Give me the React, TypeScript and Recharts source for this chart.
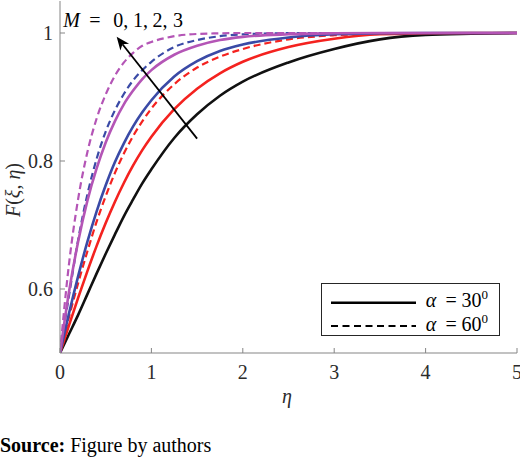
import React from 'react';
import { LineChart, Line, XAxis, YAxis, ReferenceLine, Legend } from 'recharts';

// eta grid
const etaValues = [0, 0.1, 0.2, 0.3, 0.4, 0.5, 0.6, 0.7, 0.8, 0.9, 1.0, 1.25, 1.5, 1.75, 2.0, 2.5, 3.0, 3.5, 4.0, 4.5, 5.0];

// F(xi, eta)
const blackSolid = [0.5, 0.530, 0.560, 0.592, 0.624, 0.655, 0.685, 0.714, 0.740, 0.765, 0.787, 0.836, 0.873, 0.902, 0.924, 0.954, 0.975, 0.990, 0.997, 0.999, 1.0];
const redSolid = [0.5, 0.544, 0.587, 0.628, 0.667, 0.703, 0.736, 0.766, 0.793, 0.817, 0.838, 0.881, 0.913, 0.937, 0.955, 0.978, 0.991, 0.998, 0.9995, 1.0, 1.0];
const redDashed = [0.5, 0.557, 0.610, 0.659, 0.705, 0.745, 0.781, 0.812, 0.839, 0.862, 0.882, 0.920, 0.946, 0.963, 0.975, 0.990, 0.9965, 0.999, 1.0, 1.0, 1.0];
const blueSolid = [0.5, 0.563, 0.621, 0.674, 0.721, 0.762, 0.798, 0.828, 0.854, 0.876, 0.895, 0.932, 0.956, 0.972, 0.982, 0.993, 0.998, 0.9995, 1.0, 1.0, 1.0];
const blueDashed = [0.5, 0.591, 0.678, 0.748, 0.803, 0.846, 0.879, 0.905, 0.926, 0.942, 0.955, 0.978, 0.989, 0.995, 0.998, 0.9997, 1.0, 1.0, 1.0, 1.0, 1.0];
const magentaSolid = [0.5, 0.597, 0.675, 0.738, 0.788, 0.829, 0.862, 0.889, 0.910, 0.928, 0.942, 0.966, 0.980, 0.989, 0.994, 0.998, 0.9995, 1.0, 1.0, 1.0, 1.0];
const magentaDashed = [0.5, 0.641, 0.742, 0.814, 0.866, 0.904, 0.933, 0.954, 0.969, 0.980, 0.986, 0.995, 0.9985, 0.9995, 1.0, 1.0, 1.0, 1.0, 1.0, 1.0, 1.0];

const xTicks = [0, 1, 2, 3, 4, 5];
const yTicks = [0.6, 0.8, 1];

// arrow annotation endpoints (data coords)
const arrowFrom = { x: 1.5, y: 0.835 };
const arrowTo = { x: 0.62, y: 0.994 };

const data = etaValues.map((eta, i) => ({
  eta,
  bs: blackSolid[i],
  rs: redSolid[i],
  rd: redDashed[i],
  bls: blueSolid[i],
  bld: blueDashed[i],
  ms: magentaSolid[i],
  md: magentaDashed[i],
}));

const AXIS = '#858585';
const TXT = '#2b2b2b';
const FONT = '"Liberation Serif", "Times New Roman", serif';
const RED = '#f4221f';
const BLUE = '#3a4aa6';
const MAG = '#b455b6';
const BLK = '#111111';
const DASH = '7 4';
const LW = 2.6;

const BottomTick = (p: any) => (
  <g>
    <line x1={p.x} y1={p.y} x2={p.x} y2={p.y - 5} stroke={AXIS} strokeWidth={1} />
    <text x={p.x} y={p.y + 26} textAnchor="middle" fill={TXT} fontSize={20} fontFamily={FONT}>
      {String(p.payload.value)}
    </text>
  </g>
);
const TopTick = (p: any) => (
  <line x1={p.x} y1={p.y} x2={p.x} y2={p.y + 5} stroke={AXIS} strokeWidth={1} />
);
const LeftTick = (p: any) => (
  <g>
    <line x1={p.x} y1={p.y} x2={p.x + 5} y2={p.y} stroke={AXIS} strokeWidth={1} />
    <text x={p.x - 7} y={p.y + 7} textAnchor="end" fill={TXT} fontSize={20} fontFamily={FONT}>
      {String(p.payload.value)}
    </text>
  </g>
);
const RightTick = (p: any) => (
  <line x1={p.x} y1={p.y} x2={p.x - 5} y2={p.y} stroke={AXIS} strokeWidth={1} />
);

const ArrowShape = (p: any) => {
  const { x1, y1, x2, y2 } = p;
  if ([x1, y1, x2, y2].some((v) => typeof v !== 'number' || isNaN(v))) return <g />;
  const ang = Math.atan2(y2 - y1, x2 - x1);
  const L = 13;
  const W = 5.5;
  const cos = Math.cos(ang);
  const sin = Math.sin(ang);
  const bx = x2 - L * cos;
  const by = y2 - L * sin;
  const nx = x2 - L * 0.72 * cos;
  const ny = y2 - L * 0.72 * sin;
  const pts = [
    [x2, y2],
    [bx - W * sin, by + W * cos],
    [nx, ny],
    [bx + W * sin, by - W * cos],
  ]
    .map((q) => q.join(','))
    .join(' ');
  return (
    <g>
      <line x1={x1} y1={y1} x2={nx} y2={ny} stroke="#000" strokeWidth={1.8} />
      <polygon points={pts} fill="#000" />
    </g>
  );
};

const LegendBox = () => (
  <div
    style={{
      width: 179,
      height: 53,
      border: '1px solid #262626',
      background: '#fff',
      boxSizing: 'border-box',
      position: 'relative',
    }}
  >
    <svg width={177} height={51} style={{ position: 'absolute', left: 0, top: 0 }}>
      <line x1={9} x2={94} y1={18.7} y2={18.7} stroke="#000" strokeWidth={2.6} />
      <line x1={9} x2={94} y1={42} y2={42} stroke="#000" strokeWidth={2.2} strokeDasharray="7 4.5" />
      <text y={23.3} fontSize={20} fontFamily={FONT} fill="#000">
        <tspan x={103.7} fontStyle="italic">α</tspan>
        <tspan x={123.5}>=</tspan>
        <tspan x={139.5}>30</tspan>
        <tspan dy={-8} fontSize={13}>0</tspan>
      </text>
      <text y={47.4} fontSize={20} fontFamily={FONT} fill="#000">
        <tspan x={103.7} fontStyle="italic">α</tspan>
        <tspan x={123.5}>=</tspan>
        <tspan x={139.5}>60</tspan>
        <tspan dy={-8} fontSize={13}>0</tspan>
      </text>
    </svg>
  </div>
);

export default function App() {
  return (
    <div style={{ position: 'absolute', left: 0, top: 0, width: 520, height: 459, background: '#fff' }}>
      <LineChart width={520} height={459} data={data} margin={{ top: 1, right: 3, bottom: 0, left: 0 }}>
        <XAxis
          xAxisId="b"
          dataKey="eta"
          type="number"
          domain={[0, 5]}
          allowDataOverflow
          ticks={xTicks}
          interval={0}
          orientation="bottom"
          height={106}
          tickSize={0}
          tickMargin={0}
          stroke={AXIS}
          tick={(p: any) => <BottomTick {...p} />}
        />
        <XAxis
          xAxisId="t"
          type="number"
          domain={[0, 5]}
          allowDataOverflow
          ticks={xTicks}
          interval={0}
          orientation="top"
          height={0}
          tickSize={0}
          tickMargin={0}
          stroke={AXIS}
          tick={(p: any) => <TopTick {...p} />}
        />
        <YAxis
          yAxisId="l"
          type="number"
          domain={[0.5, 1.05]}
          allowDataOverflow
          ticks={yTicks}
          interval={0}
          orientation="left"
          width={60}
          tickSize={0}
          tickMargin={0}
          stroke={AXIS}
          tick={(p: any) => <LeftTick {...p} />}
        />
        <YAxis
          yAxisId="r"
          type="number"
          domain={[0.5, 1.05]}
          allowDataOverflow
          ticks={yTicks}
          interval={0}
          orientation="right"
          width={0}
          tickSize={0}
          tickMargin={0}
          stroke={AXIS}
          tick={(p: any) => <RightTick {...p} />}
        />
        <Line xAxisId="b" yAxisId="l" type="monotone" dataKey="bs" stroke={BLK} strokeWidth={LW} dot={false} isAnimationActive={false} legendType="none" />
        <Line xAxisId="b" yAxisId="l" type="monotone" dataKey="rs" stroke={RED} strokeWidth={LW} dot={false} isAnimationActive={false} legendType="none" />
        <Line xAxisId="b" yAxisId="l" type="monotone" dataKey="rd" stroke={RED} strokeWidth={LW - 0.4} strokeDasharray={DASH} dot={false} isAnimationActive={false} legendType="none" />
        <Line xAxisId="b" yAxisId="l" type="monotone" dataKey="bls" stroke={BLUE} strokeWidth={LW} dot={false} isAnimationActive={false} legendType="none" />
        <Line xAxisId="b" yAxisId="l" type="monotone" dataKey="bld" stroke={BLUE} strokeWidth={LW - 0.4} strokeDasharray={DASH} dot={false} isAnimationActive={false} legendType="none" />
        <Line xAxisId="b" yAxisId="l" type="monotone" dataKey="ms" stroke={MAG} strokeWidth={LW} dot={false} isAnimationActive={false} legendType="none" />
        <Line xAxisId="b" yAxisId="l" type="monotone" dataKey="md" stroke={MAG} strokeWidth={LW - 0.4} strokeDasharray={DASH} dot={false} isAnimationActive={false} legendType="none" />
        <ReferenceLine
          xAxisId="b"
          yAxisId="l"
          segment={[arrowFrom, arrowTo]}
          ifOverflow="visible"
          shape={(p: any) => <ArrowShape {...p} />}
        />
        <Legend
          layout="horizontal"
          verticalAlign="middle"
          align="center"
          wrapperStyle={{ position: 'absolute', left: 321, top: 283, width: 179, height: 53 }}
          content={() => <LegendBox />}
        />
      </LineChart>
      <svg width={520} height={459} style={{ position: 'absolute', left: 0, top: 0, pointerEvents: 'none' }}>
        <text y={27.3} fontSize={20} fontFamily={FONT} fill="#000">
          <tspan x={63.3} fontStyle="italic">M</tspan>
          <tspan x={89.3}>=</tspan>
          <tspan x={113.3}>0,</tspan>
          <tspan x={133}>1,</tspan>
          <tspan x={152.5}>2,</tspan>
          <tspan x={173}>3</tspan>
        </text>
        <text x={287} y={403} textAnchor="middle" fontSize={20} fontStyle="italic" fontFamily={FONT} fill={TXT}>
          η
        </text>
        <text
          x={0}
          y={0}
          transform="translate(20,190) rotate(-90)"
          textAnchor="middle"
          fontSize={20}
          fontFamily={FONT}
          fill={TXT}
        >
          <tspan fontStyle="italic">F</tspan>
          <tspan>(</tspan>
          <tspan fontStyle="italic">ξ</tspan>
          <tspan>, </tspan>
          <tspan fontStyle="italic">η</tspan>
          <tspan>)</tspan>
        </text>
        <text x={0} y={452} fontSize={20} fontFamily={FONT} fill="#000">
          <tspan fontWeight="bold">Source:</tspan>
          <tspan> Figure by authors</tspan>
        </text>
      </svg>
    </div>
  );
}
